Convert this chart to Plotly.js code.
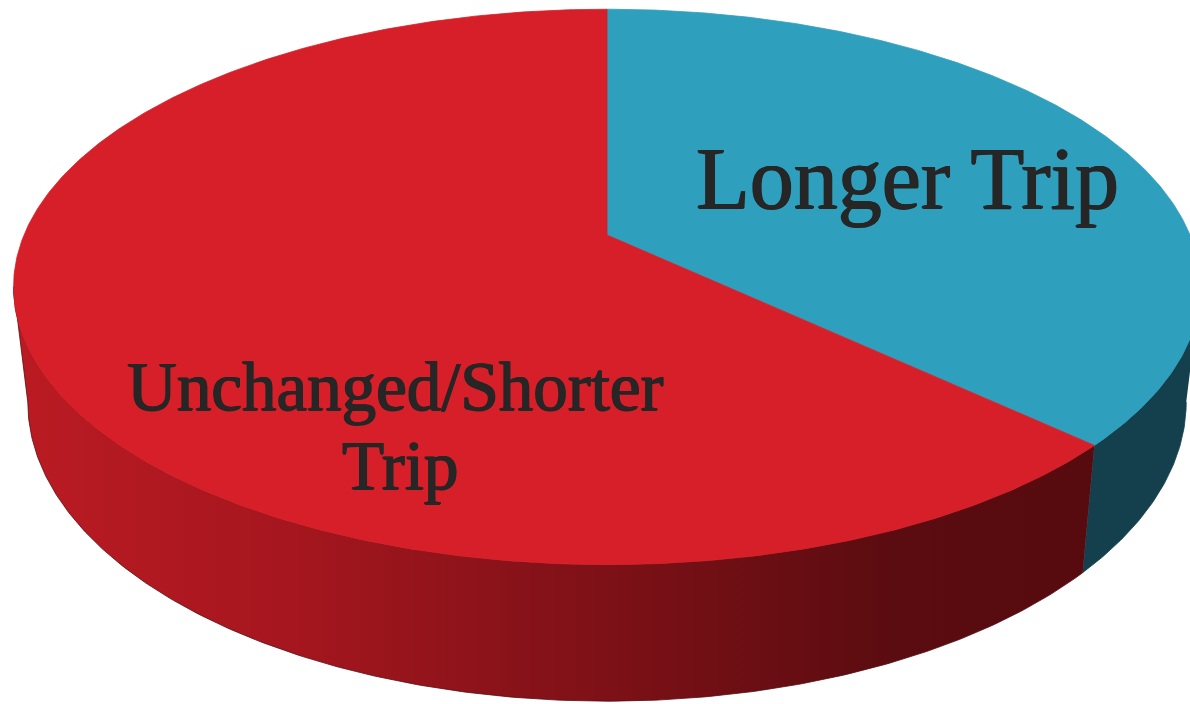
<!DOCTYPE html>
<html>
<head>
<meta charset="utf-8">
<script src="https://cdn.plot.ly/plotly-3.0.1.min.js"></script>
<style>html,body{margin:0;padding:0;background:#fff}#chart{width:1190px;height:704px}</style>
</head>
<body>
<div id="chart"></div>
<script>
// ---- data ----
const labels = ['Longer Trip', 'Unchanged/Shorter Trip'];
const values = [37, 63];
const topColors = ['#2e9fbd', '#d61f28'];
const sideScales = [
  [[0, '#143f4c'], [1, '#143f4c']],
  [[0, '#bb1b23'], [0.26, '#a5161e'], [0.54, '#7e1117'], [0.82, '#5a0c10'], [1, '#570b0f']]
];

// ---- geometry (style constants for the 3D perspective view) ----
const cx = 607, cy = 235;   // projected centre of the top face
const A = 583, B = 268;     // radii
const K = 0.187;            // perspective strength
const H = 111;              // thickness
const SX = 0.976;           // convergence of vertical edges

function proj(thetaDeg, z) {
  const t = thetaDeg * Math.PI / 180;
  const u = Math.sin(t), v = Math.cos(t);
  const w = 1 + K * v;
  const s = z ? SX : 1;
  return [cx + A * u / w * s, cy + (-B * v + H * z) / w];
}

function arc(a0, a1, z) {
  const xs = [], ys = [];
  const n = Math.max(2, Math.ceil(Math.abs(a1 - a0) / 0.5));
  for (let i = 0; i <= n; i++) {
    const p = proj(a0 + (a1 - a0) * i / n, z);
    xs.push(p[0]); ys.push(p[1]);
  }
  return [xs, ys];
}

const total = values.reduce((a, b) => a + b, 0);
const starts = [], ends = [];
let acc = 0;
values.forEach(v => { starts.push(acc / total * 360); acc += v; ends.push(acc / total * 360); });

// visible front range of the side wall
const visLo = Math.acos(-K) * 180 / Math.PI;
const visHi = 360 - visLo;

const traces = [];
// side walls
values.forEach((v, i) => {
  const a0 = Math.max(starts[i], visLo), a1 = Math.min(ends[i], visHi);
  if (a1 <= a0) return;
  const [tx, ty] = arc(a0, a1, 0);
  const [bx, by] = arc(a1, a0, 1);
  const sc = sideScales[i];
  traces.push({
    type: 'scatter', mode: 'lines', x: tx.concat(bx), y: ty.concat(by),
    fill: 'toself', line: {width: 0.8, color: sc[sc.length - 1][1]},
    fillgradient: {type: 'horizontal', colorscale: sc},
    hoverinfo: 'skip', showlegend: false
  });
});
// top faces
values.forEach((v, i) => {
  const [ax, ay] = arc(starts[i], ends[i], 0);
  traces.push({
    type: 'scatter', mode: 'lines', x: [cx].concat(ax, [cx]), y: [cy].concat(ay, [cy]),
    fill: 'toself', fillcolor: topColors[i], line: {width: 0.8, color: topColors[i]},
    hoverinfo: 'skip', showlegend: false
  });
});

// label lines (label text split onto lines as in the original)
const labelLines = [[labels[0]], ['Unchanged/Shorter', 'Trip']];
const labelPos = [[[907, 178]], [[395, 387], [400, 466]]];
const labelSize = [88, 69];
const shadow = '0.8px 0 0 #262626, -0.8px 0 0 #262626, 0 0.5px 0 #262626';
const annotations = [];
labelLines.forEach((lines, i) => lines.forEach((t, j) => annotations.push({
  x: labelPos[i][j][0], y: labelPos[i][j][1], xref: 'x', yref: 'y', showarrow: false,
  text: t, borderpad: 0,
  font: {family: 'Liberation Serif, DejaVu Serif, serif', size: labelSize[i], color: '#262626', shadow: shadow},
  align: 'center'
})));

const layout = {
  width: 1190, height: 704,
  margin: {l: 0, r: 0, t: 0, b: 0},
  paper_bgcolor: '#ffffff', plot_bgcolor: '#ffffff',
  xaxis: {range: [0, 1190], visible: false, fixedrange: true},
  yaxis: {range: [704, 0], visible: false, fixedrange: true},
  annotations: annotations,
  showlegend: false
};
Plotly.newPlot('chart', traces, layout, {displayModeBar: false, staticPlot: true});
</script>
</body>
</html>
